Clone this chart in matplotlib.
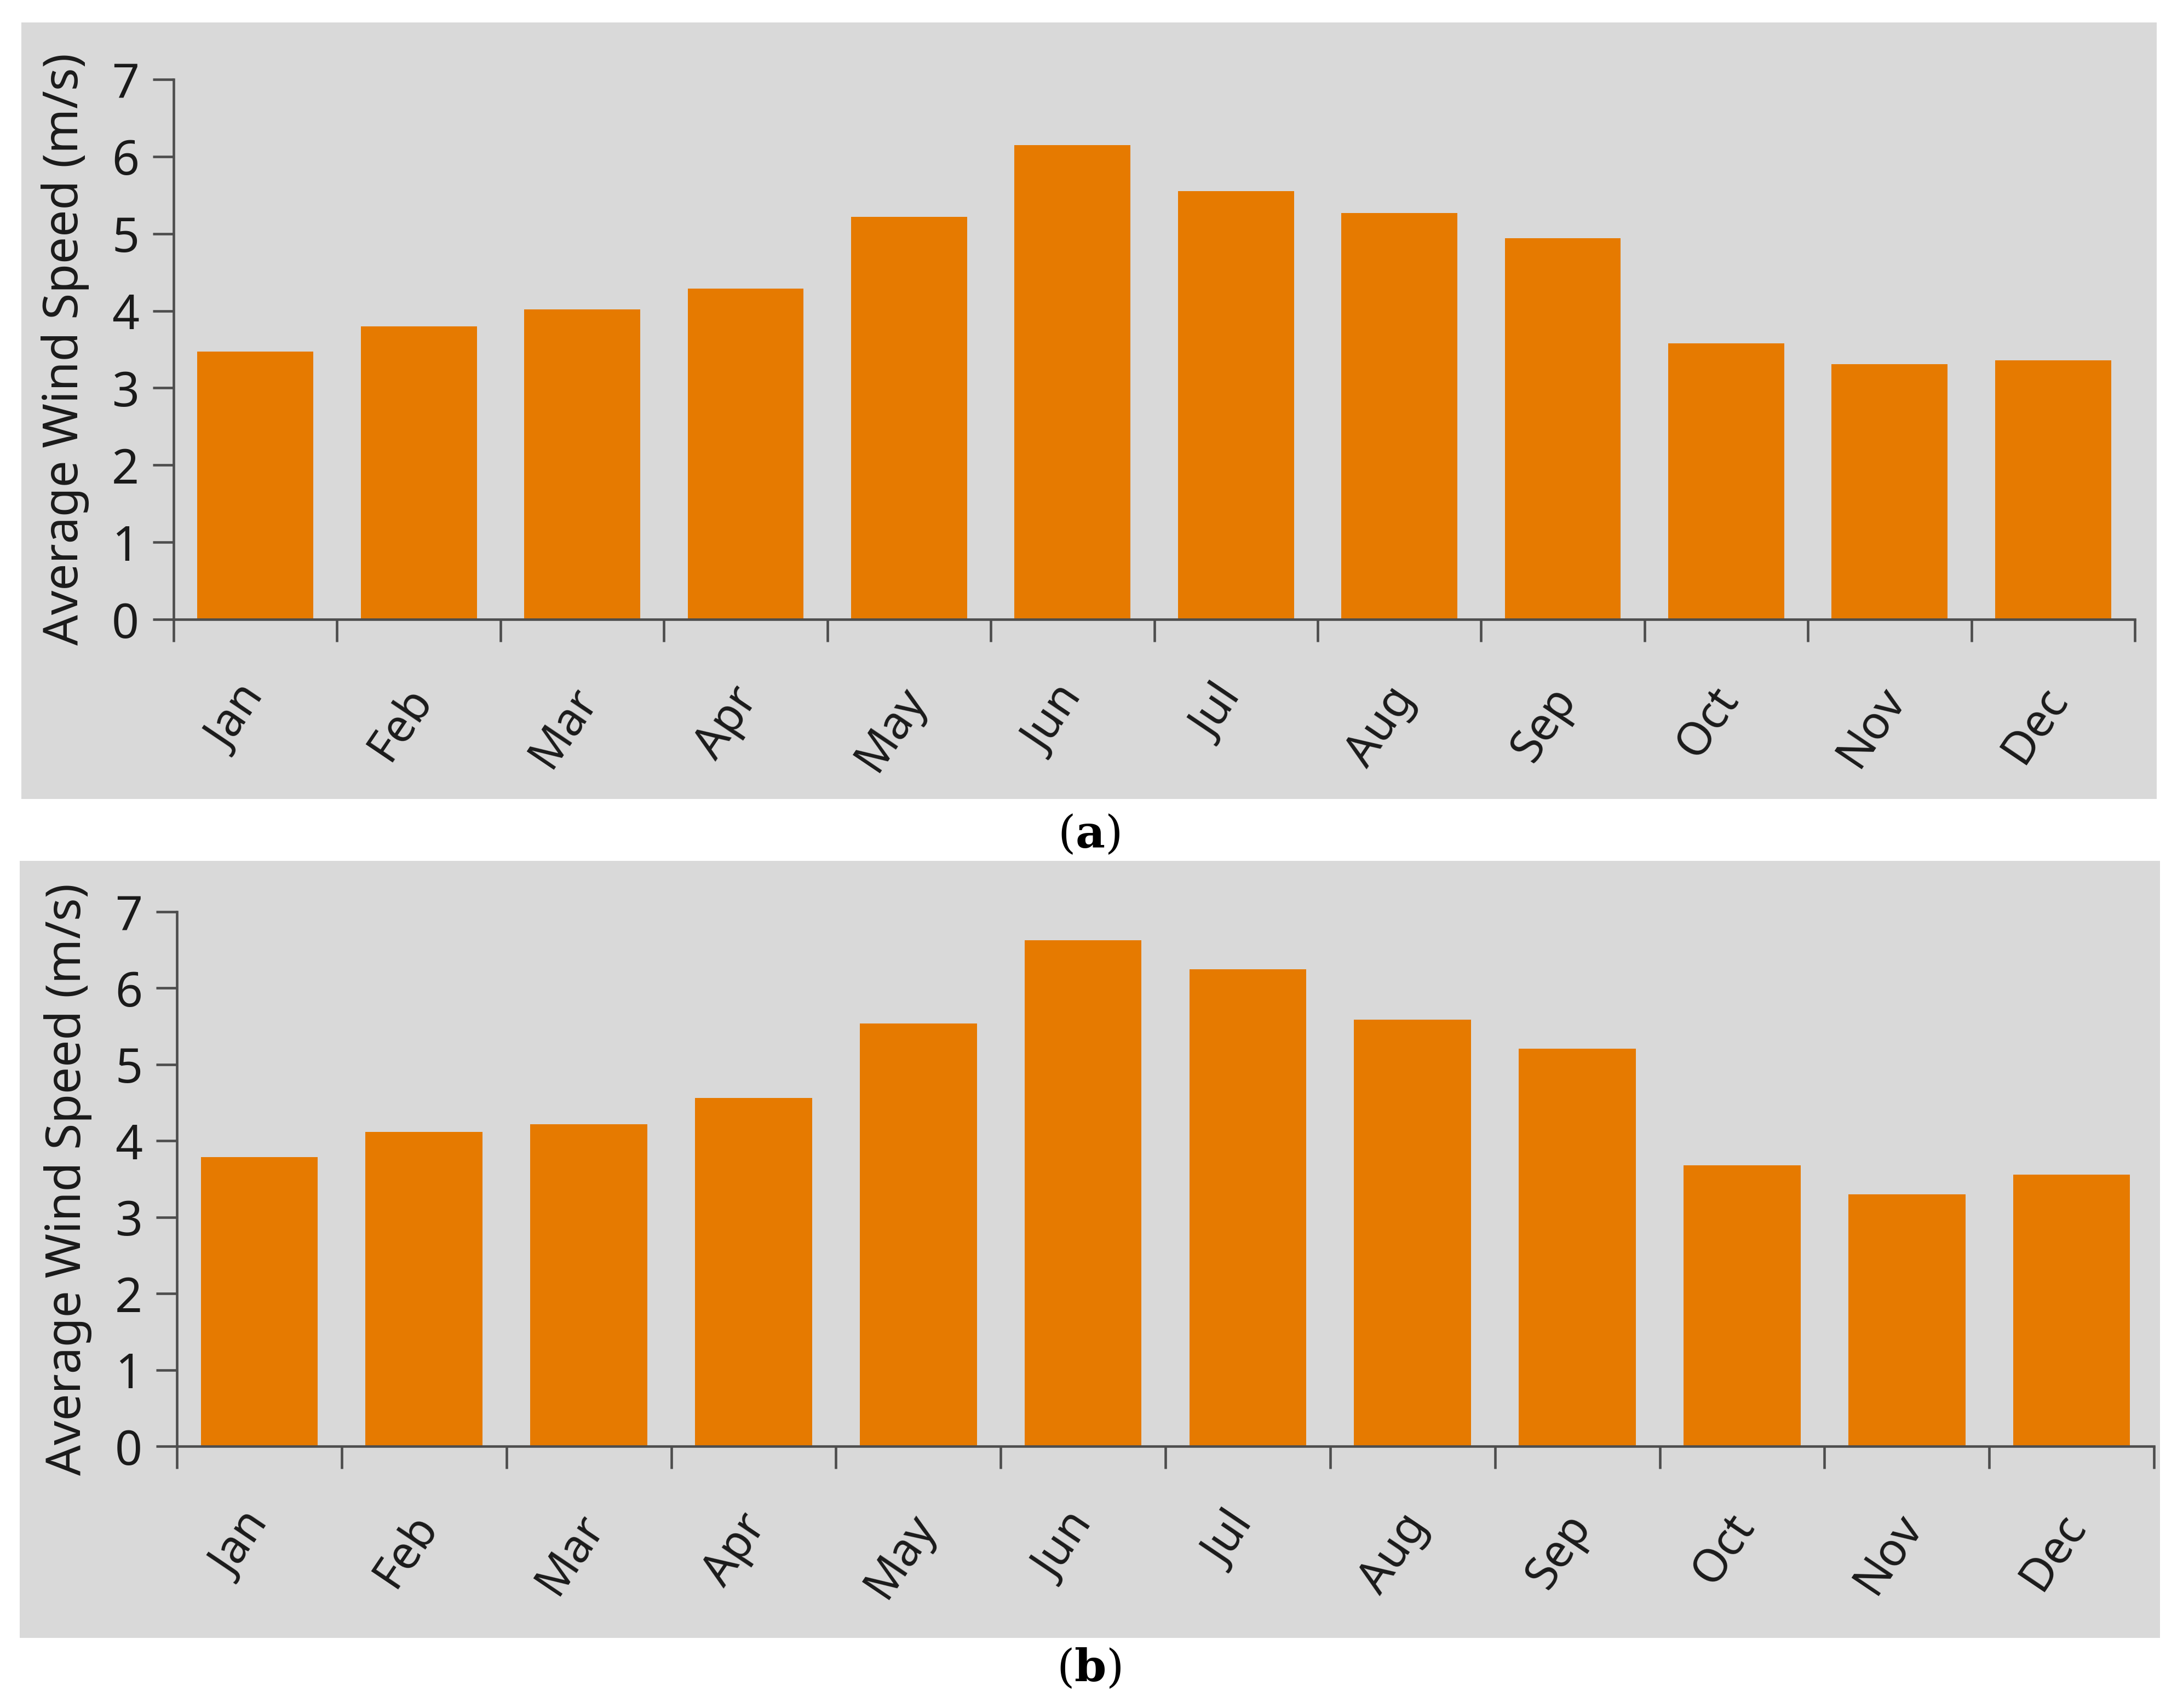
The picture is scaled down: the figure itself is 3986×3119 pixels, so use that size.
import matplotlib.pyplot as plt
from matplotlib.patches import Rectangle
from matplotlib.transforms import ScaledTranslation
import numpy as np

months = ['Jan', 'Feb', 'Mar', 'Apr', 'May', 'Jun',
          'Jul', 'Aug', 'Sep', 'Oct', 'Nov', 'Dec']
speed_a = [3.47, 3.80, 4.02, 4.29, 5.22, 6.15, 5.55, 5.27, 4.94, 3.58, 3.31, 3.36]
speed_b = [3.79, 4.12, 4.22, 4.56, 5.54, 6.63, 6.25, 5.59, 5.21, 3.68, 3.30, 3.56]

W, H = 3986, 3119
bar_color = '#E67A00'
bg_color = '#D9D9D9'
spine_color = '#4D4D4D'

plt.rcParams['font.family'] = ['Noto Sans', 'DejaVu Sans']
plt.rcParams['mathtext.fontset'] = 'dejavuserif'

fig = plt.figure(figsize=(W / 300, H / 300), dpi=300)


def px_rect(x0, y0, x1, y1):
    # pixel box (top-left origin) -> figure fraction [left, bottom, width, height]
    return [x0 / W, 1 - y1 / H, (x1 - x0) / W, (y1 - y0) / H]


def panel(bg_box, ax_box, values, caption, cap_y):
    r = px_rect(*bg_box)
    fig.patches.append(Rectangle((r[0], r[1]), r[2], r[3], transform=fig.transFigure,
                                 facecolor=bg_color, edgecolor='none', zorder=-5))
    ax = fig.add_axes(px_rect(*ax_box))
    ax.set_facecolor('none')
    idx = np.arange(len(months))
    ax.bar(idx + 0.5, values, 0.71, color=bar_color, zorder=2)
    ax.set_xlim(0, 12)
    ax.set_ylim(0, 7)
    for s in ['top', 'right']:
        ax.spines[s].set_visible(False)
    for s in ['left', 'bottom']:
        ax.spines[s].set_color(spine_color)
        ax.spines[s].set_linewidth(1.1)
    ax.set_yticks(range(8))
    ax.set_xticks(range(13))
    ax.set_xticklabels([])
    ax.set_xticks(idx + 0.5, minor=True)
    ax.set_xticklabels(months, minor=True, rotation=56, ha='center', va='top')
    ax.tick_params(axis='x', which='major', length=9.8, width=1.1, color=spine_color)
    ax.tick_params(axis='x', which='minor', length=0, pad=26, labelsize=20, labelcolor='#1A1A1A')
    ax.tick_params(axis='y', length=9.1, width=1.1, color=spine_color, pad=6,
                   labelsize=21, labelcolor='#1A1A1A')
    # labels sit a little left of the bar centres
    shift = ScaledTranslation(-0.11, 0, fig.dpi_scale_trans)
    for lbl in ax.get_xticklabels(minor=True):
        lbl.set_transform(lbl.get_transform() + shift)
    ax.set_ylabel('Average Wind Speed (m/s)', fontsize=21, color='#1A1A1A')
    ax.yaxis.set_label_coords(-0.043, 0.5)
    fig.text(0.4988, 1 - cap_y / H, r'($\mathbf{%s}$)' % caption, fontsize=20,
             family='DejaVu Serif', ha='center', va='center')
    return ax


panel((39, 41, 3938, 1459), (317, 145, 3898, 1131), speed_a, 'a', 1525)
panel((36, 1572, 3944, 2991), (323, 1665, 3933, 2641), speed_b, 'b', 3048)

fig.savefig('out.png', dpi=300, facecolor='white')
